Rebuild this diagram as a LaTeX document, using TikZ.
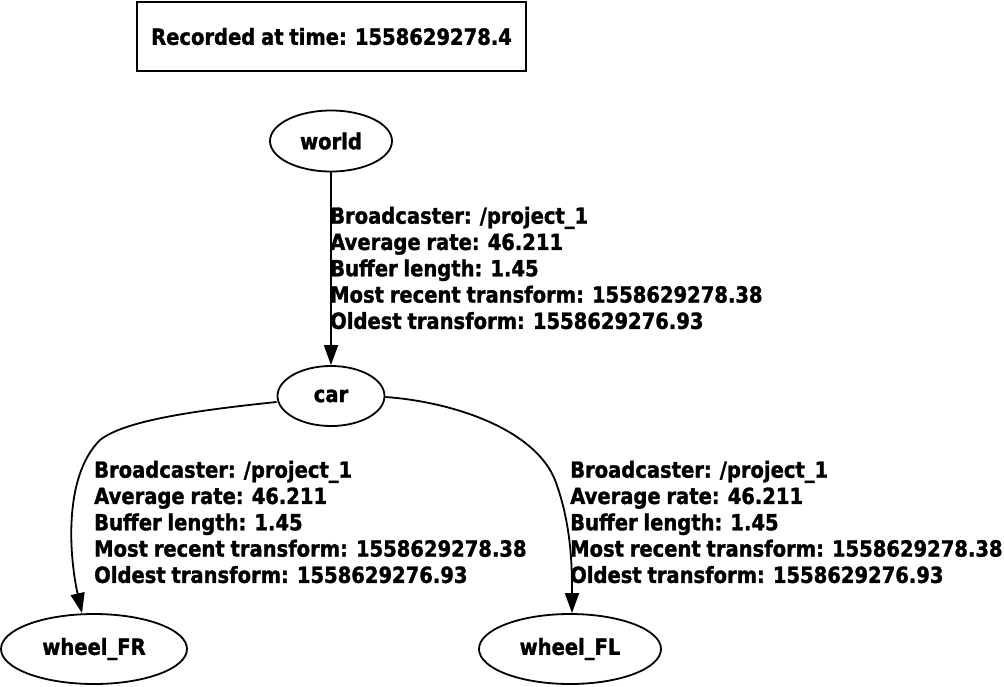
\documentclass[tikz,border=0pt]{standalone}
\usepackage{fontspec}
\newfontfamily\lblfont{DejaVu Sans Bold}[FakeStretch=0.88,FakeBold=1.4,WordSpace=0.85]
\usetikzlibrary{arrows.meta,shapes.geometric}
\begin{document}
\begin{tikzpicture}[x=1pt,y=-1pt,
  every node/.style={font=\lblfont\fontsize{22.2}{26.3}\selectfont},
  frame/.style={draw, line width=1.8pt, inner sep=0pt, minimum width=389pt, minimum height=69pt},
  tfnode/.style={draw, ellipse, line width=1.8pt, inner sep=0pt},
  edgelbl/.style={align=left, anchor=west, inner sep=0pt},
  link/.style={draw, line width=1.8pt, -{Triangle[length=20pt,width=14pt]}}]
\useasboundingbox (0,0) rectangle (1004,686);
\node[frame] (stamp) at (331.5,36.5) {Recorded at time: 1558629278.4};
\node[tfnode, minimum width=122pt, minimum height=61pt] (world) at (331,141) {world};
\node[tfnode, minimum width=107pt, minimum height=60pt] (car) at (331,396) {car};
\node[tfnode, minimum width=186pt, minimum height=70pt] (fr) at (94,649) {wheel\_FR};
\node[tfnode, minimum width=182pt, minimum height=70pt] (fl) at (570,649) {wheel\_FL};
\draw[link] (world) -- (car);
\draw[link] (car.west) ++(0,6) .. controls (200,410) and (125,420) .. (100,440)
  .. controls (62,478) and (70,560) .. (82,0 |- fr.north);
\draw[link] (car.east) ++(0,1) .. controls (455,402) and (535,430) .. (555,480)
  .. controls (572,525) and (572,570) .. (572,0 |- fl.north);
\node[edgelbl] (l1) at (330,268) {Broadcaster: /project\_1\\Average rate: 46.211\\Buffer length: 1.45\\Most recent transform: 1558629278.38\\Oldest transform: 1558629276.93};
\node[edgelbl] (l2) at (94,522) {Broadcaster: /project\_1\\Average rate: 46.211\\Buffer length: 1.45\\Most recent transform: 1558629278.38\\Oldest transform: 1558629276.93};
\node[edgelbl] (l3) at (570,522) {Broadcaster: /project\_1\\Average rate: 46.211\\Buffer length: 1.45\\Most recent transform: 1558629278.38\\Oldest transform: 1558629276.93};
\end{tikzpicture}
\end{document}
